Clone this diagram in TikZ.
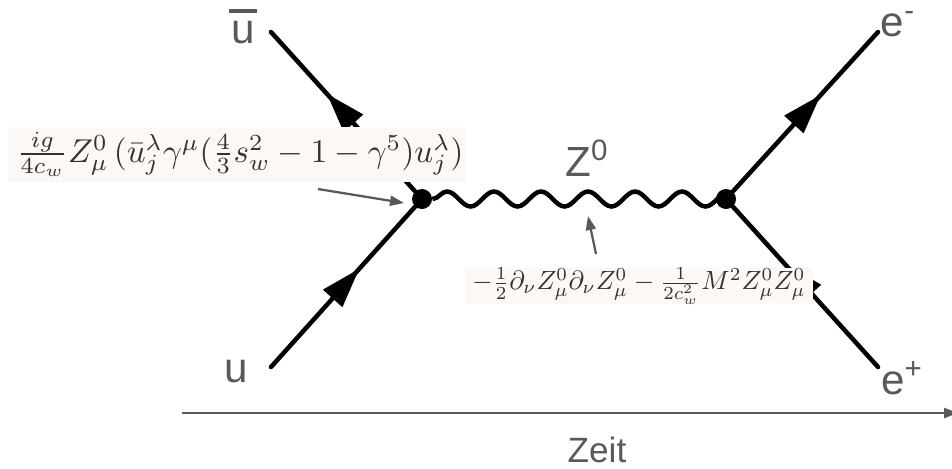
\documentclass[tikz,border=0pt]{standalone}
\usepackage{amsmath}
\usepackage{graphicx}
\usepackage{fontspec}
\setmainfont{Liberation Sans}
\usepackage{xcolor}
\usetikzlibrary{decorations.markings}
\usetikzlibrary{decorations.pathmorphing}
\usetikzlibrary{arrows.meta}
\definecolor{labelgray}{HTML}{595959}
\definecolor{boxtint}{HTML}{FCF8F5}
\tikzset{
  fermion/.style={line width=.9mm,line cap=round,postaction={decorate},decoration={markings,
    mark=at position #1 with {\arrow{Triangle[length=.8cm,width=.5cm]}}}},
  vertexdot/.style={circle,fill=black,inner sep=0pt,minimum size=.4cm},
  lagrangebox/.style={fill=boxtint,inner sep=0pt,text=black!80},
  particle/.style={text=labelgray,font=\fontsize{24}{24}\selectfont,inner sep=0pt},
  pointer/.style={draw=labelgray,line width=.45mm,-{Triangle[length=.28cm,width=.2cm]}}
}
\begin{document}
\begin{tikzpicture}[x=.02cm,y=-.02cm]
\useasboundingbox (0,0) rectangle (952,468);
% vertices
\node[vertexdot] (left) at (422,199) {};
\node[vertexdot] (right) at (726,199) {};
% outer ends
\coordinate (uin) at (271,367);
\coordinate (ubarin) at (271,32);
\coordinate (eminus) at (878,32);
\coordinate (eplus) at (878,367);
\coordinate (waveend) at (800,199);
\draw[fermion=.615] (uin) -- (left);
\draw[fermion=.614] (left) -- (ubarin);
\draw[fermion=.606] (right) -- (eminus);
\draw[fermion=.645] (eplus) -- (right);
\begin{scope}
\clip (422,170) rectangle (726,230);
\draw[line width=.9mm,decorate,decoration={snake,segment length=.94cm,amplitude=.15cm}] (left) -- (waveend);
\end{scope}
% terms
\node[lagrangebox,minimum width=9.16cm,minimum height=1.1cm] (vertexterm) at (237,154.5)
  {\hspace*{.12cm}\scalebox{1.88}{$\frac{ig}{4c_w}Z^0_\mu\,(\bar u^\lambda_j\gamma^\mu(\frac{4}{3}s_w^2-1-\gamma^5)u^\lambda_j)$}};
\node[lagrangebox,minimum width=6.96cm,minimum height=.68cm] (propterm) at (639,286)
  {\scalebox{1.5}{$-\frac{1}{2}\partial_\nu Z^0_\mu\partial_\nu Z^0_\mu-\frac{1}{2c_w^2}M^2Z^0_\mu Z^0_\mu$}};
% pointers
\coordinate (vertexfrom) at (318,189);
\coordinate (vertexto) at (404,203);
\coordinate (propfrom) at (596,254);
\coordinate (propto) at (588,216);
\draw[pointer] (vertexfrom) -- (vertexto);
\draw[pointer] (propfrom) -- (propto);
% labels
\node[particle,anchor=base west] (ubar) at (231,43) {\makebox[0pt][l]{\hspace{-.04cm}\raisebox{.6cm}{\rule{.56cm}{.08cm}}}u};
\node[particle,anchor=base west] (u) at (224,382) {u};
\node[particle] (eminuslabel) at (898,24) {e\textsuperscript{-}};
\node[particle] (epluslabel) at (902,378) {e\textsuperscript{+}};
\node[particle] (zzero) at (587,158) {Z\textsuperscript{0}};
% time axis
\coordinate (timefrom) at (182,413);
\coordinate (timeto) at (958,413);
\draw[pointer] (timefrom) -- (timeto);
\node[particle,font=\fontsize{20}{20}\selectfont] (zeit) at (597,450) {Zeit};
\end{tikzpicture}
\end{document}
